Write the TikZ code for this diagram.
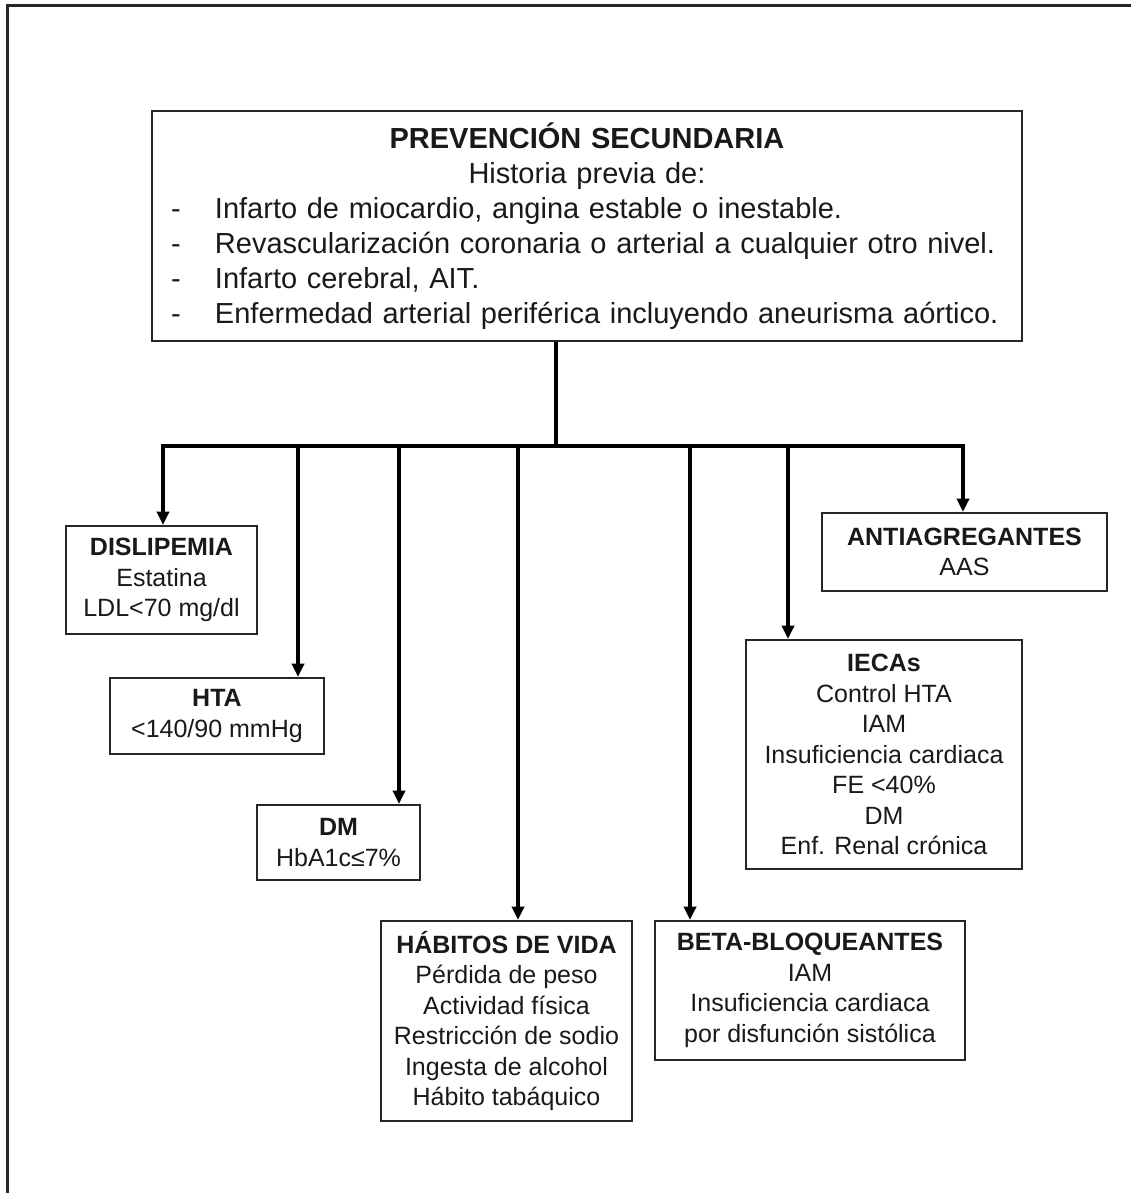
\documentclass[tikz,border=0pt]{standalone}
\usepackage{fontspec}
\setmainfont{Liberation Sans}
\usetikzlibrary{arrows.meta}
\newcommand{\listline}[1]{\makebox[652.5pt][l]{\makebox[47.25pt][l]{\hspace*{14.25pt}-}#1}}
\begin{document}
\begin{tikzpicture}[x=0.75pt,y=-0.75pt,
  box/.style={draw=black!85, line width=1.5pt, inner sep=0pt, align=center,
    text=black!90, font=\fontsize{18.75}{22.9}\selectfont},
  conn/.style={line width=3pt, black},
  arr/.style={conn, -{Triangle[length=10pt,width=9pt]}},
  frame/.style={line width=2.25pt, black!85}]
\useasboundingbox (0,0) rectangle (1131,1193);
% page frame (top and left edges)
\draw[frame] (7,1193) -- (7,5) -- (1131,5);

% main box
\node[box, minimum width=652.5pt, minimum height=172.5pt, text width=652.5pt,
  font=\fontsize{21.75}{26.25}\selectfont] (main) at (587,226)
  {{\bfseries PREVENCIÓN SECUNDARIA}\\
   Historia previa de:\\
   \listline{Infarto de miocardio, angina estable o inestable.}\\
   \listline{Revascularización coronaria o arterial a cualquier otro nivel.}\\
   \listline{Infarto cerebral, AIT.}\\
   \listline{Enfermedad arterial periférica incluyendo aneurisma aórtico.}};

% treatment boxes
\node[box, minimum width=143.25pt, minimum height=81pt] (dis) at (161.5,580)
  {\textbf{DISLIPEMIA}\\ Estatina\\ LDL<70 mg/dl};
\node[box, minimum width=160.5pt, minimum height=57pt] (hta) at (217,716)
  {\textbf{HTA}\\ <140/90 mmHg};
\node[box, minimum width=122.25pt, minimum height=56.25pt] (dm) at (338.5,842.5)
  {\textbf{DM}\\ HbA1c≤7\%};
\node[box, minimum width=188.25pt, minimum height=150pt] (hab) at (506.5,1021)
  {\textbf{HÁBITOS DE VIDA}\\ Pérdida de peso\\ Actividad física\\
   Restricción de sodio\\ Ingesta de alcohol\\ Hábito tabáquico};
\node[box, minimum width=232.5pt, minimum height=104.25pt] (beta) at (810,990.5)
  {\textbf{BETA-BLOQUEANTES}\\ IAM\\ Insuficiencia cardiaca\\ por disfunción sistólica};
\node[box, minimum width=207pt, minimum height=171.75pt] (iec) at (884,754.5)
  {\textbf{IECAs}\\ Control HTA\\ IAM\\ Insuficiencia cardiaca\\ FE <40\%\\ DM\\ Enf. Renal crónica};
\node[box, minimum width=213.75pt, minimum height=58.5pt] (anti) at (964.5,552)
  {\textbf{ANTIAGREGANTES}\\ AAS};

% distribution bar
\coordinate (trunk) at (556,446);
\coordinate (cDis) at (163,446);
\coordinate (cHta) at (298,446);
\coordinate (cDm) at (399,446);
\coordinate (cHab) at (518,446);
\coordinate (cBeta) at (690,446);
\coordinate (cIec) at (788,446);
\coordinate (cAnti) at (963,446);

\draw[conn] (main.south -| trunk) -- (trunk);
\draw[conn, line cap=rect] (cDis) -- (cAnti);
\draw[arr] (cDis) -- (cDis |- dis.north);
\draw[arr] (cHta) -- (cHta |- hta.north);
\draw[arr] (cDm) -- (cDm |- dm.north);
\draw[arr] (cHab) -- (cHab |- hab.north);
\draw[arr] (cBeta) -- (cBeta |- beta.north);
\draw[arr] (cIec) -- (cIec |- iec.north);
\draw[arr] (cAnti) -- (cAnti |- anti.north);
\end{tikzpicture}
\end{document}
